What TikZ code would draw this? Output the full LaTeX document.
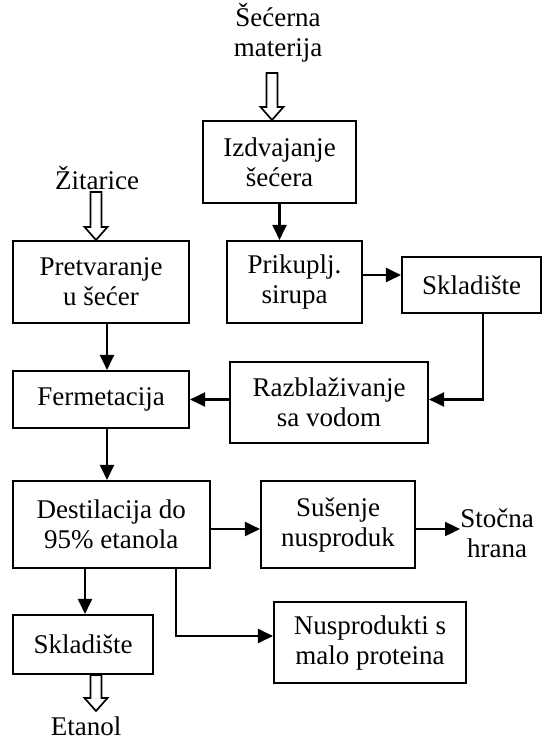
\documentclass[tikz,border=0pt]{standalone}
\usepackage{fontspec}
\setmainfont{Liberation Serif}
\usetikzlibrary{arrows.meta,calc}
\begin{document}
\begin{tikzpicture}[x=1pt,y=-1pt,
  lbl/.style={font=\fontsize{27}{30}\selectfont, align=center, inner sep=0pt},
  box/.style={lbl, draw, line width=2.1pt},
  arr/.style={line width=2.1pt, -{Triangle[length=15pt,width=14pt]}},
  hollow/.style={line width=1.7pt, fill=white, line join=miter}]
\newcommand\hollowarrow[2]{%
  \draw[hollow] let \p1=(#1), \p2=(#2) in
    (\x1-5.5pt,\y1) -- (\x1-5.5pt,\y2+13pt) -- (\x1-11.5pt,\y2+13pt) -- (\x1,\y2)
    -- (\x1+11.5pt,\y2+13pt) -- (\x1+5.5pt,\y2+13pt) -- (\x1+5.5pt,\y1) -- cycle;}
\useasboundingbox (0,0) rectangle (543,740);

% texts
\node[lbl] (sec) at (278,33) {Šećerna\\materija};
\node[lbl] (zit) at (97,178) {Žitarice};
\node[lbl] (sto) at (497,533) {Stočna\\hrana};
\node[lbl] (eta) at (86,726) {Etanol};

% boxes
\node[box, minimum width=153pt, minimum height=82pt] (izd) at (279.5,162) {Izdvajanje\\šećera};
\node[box, minimum width=176pt, minimum height=82pt] (pre) at (101,282) {Pretvaranje\\u šećer};
\node[box, minimum width=135pt, minimum height=82pt] (pri) at (294.5,282) {Prikuplj.\\sirupa};
\node[box, minimum width=139pt, minimum height=56pt] (sk1) at (471.5,285) {Skladište};
\node[box, minimum width=198pt, minimum height=81pt] (raz) at (329,402.5) {Razblaživanje\\sa vodom};
\node[box, minimum width=176pt, minimum height=57pt] (fer) at (101,399.5) {Fermetacija};
\node[box, minimum width=197pt, minimum height=87pt] (des) at (111.3,524.5) {Destilacija do\\95\% etanola};
\node[box, minimum width=154pt, minimum height=87pt] (sus) at (338,524.5) {Sušenje\\nusproduk};
\node[box, minimum width=140pt, minimum height=59pt] (sk2) at (83,644.5) {Skladište};
\node[box, minimum width=192pt, minimum height=81pt] (nus) at (370,642.5) {Nusprodukti s\\malo proteina};

% hollow arrows
\coordinate (a1) at (272,73);
\coordinate (a2) at (96,192);
\coordinate (a3) at (96,711);
\hollowarrow{a1}{izd.north -| a1}
\hollowarrow{a2}{pre.north -| a2}
\hollowarrow{sk2.south -| a3}{a3}

% connectors
\draw[arr] (izd.south) -- (izd.south |- pri.north);
\draw[arr] ([yshift=7pt]pri.east) -- ([yshift=7pt]pri.east -| sk1.west);
\draw[arr] ([xshift=11.5pt]sk1.south) |- (raz.east |- fer.east);
\draw[arr] (raz.west |- fer.east) -- (fer.east);
\draw[arr] ([xshift=6pt]pre.south) -- ([xshift=6pt]pre.south |- fer.north);
\draw[arr] ([xshift=6pt]fer.south) -- ([xshift=6pt]fer.south |- des.north);
\draw[arr] ([yshift=-4.5pt]des.east) -- ([yshift=-4.5pt]des.east -| sus.west);
\draw[arr] ([yshift=-4.5pt]sus.east) -- ([yshift=-4.5pt]sus.east -| sto.west);
\draw[arr] ([xshift=2pt]sk2.north |- des.south) -- ([xshift=2pt]sk2.north);
\draw[arr] ([xshift=64.7pt]des.south) |- ([yshift=6.5pt]nus.west);
\end{tikzpicture}
\end{document}
